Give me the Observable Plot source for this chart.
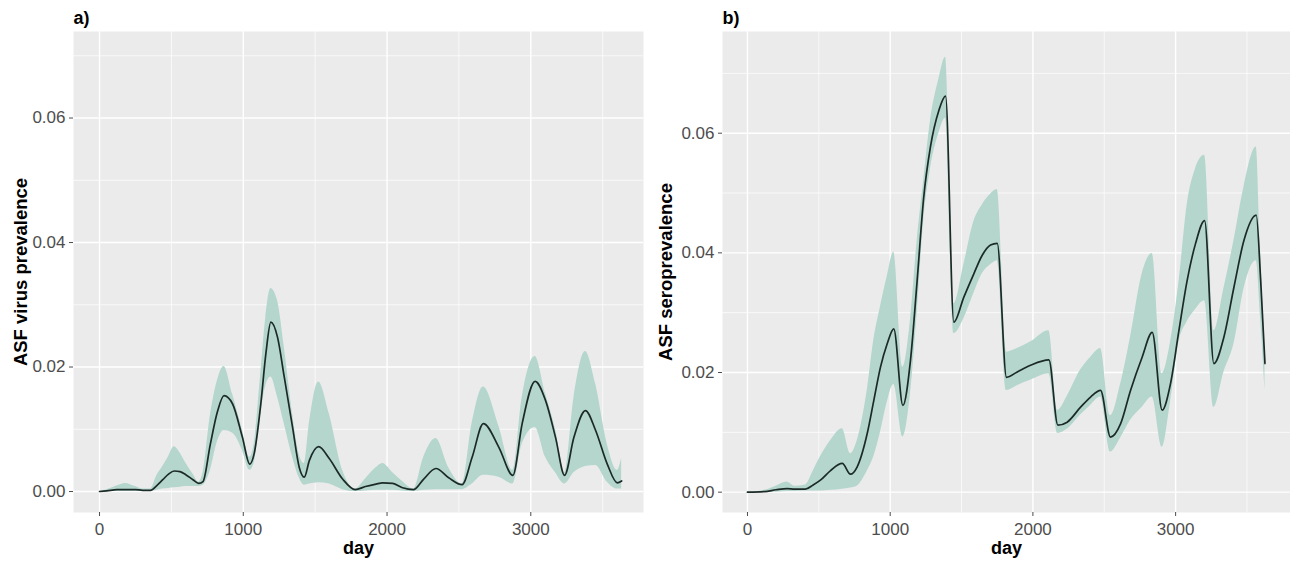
<!DOCTYPE html>
<html>
<head>
<meta charset="utf-8">
<script src="https://cdn.jsdelivr.net/npm/d3@7"></script>
<script src="https://cdn.jsdelivr.net/npm/@observablehq/plot@0.6"></script>
<style>
  html, body { margin: 0; padding: 0; background: #ffffff; }
  #wrap { display: flex; width: 1290px; height: 562px; }
</style>
</head>
<body>
<div id="wrap"></div>
<script>
// ---------- Panel a: ASF virus prevalence ----------
const aDay  = [0,50,120,180,250,300,355,400,440,480,520,560,600,650,690,720,770,820,866,925,994,1045,1075,1122,1157,1192,1238,1285,1343,1389,1424,1460,1524,1598,1691,1779,1850,1923,1970,2040,2108,2185,2255,2340,2429,2522,2592,2670,2778,2875,2940,3030,3103,3172,3235,3300,3380,3451,3532,3602,3632];
const aMean = [0,0.0001,0.0003,0.0003,0.0003,0.0002,0.0002,0.0010,0.0019,0.0028,0.0033,0.0032,0.0027,0.0019,0.0013,0.0016,0.0075,0.0128,0.0154,0.0141,0.0087,0.0044,0.0060,0.0141,0.0221,0.0272,0.0248,0.0184,0.0103,0.0039,0.0023,0.0050,0.0072,0.0053,0.0020,0.0003,0.0008,0.0012,0.0014,0.0013,0.0006,0.0003,0.0020,0.0037,0.0022,0.0011,0.0055,0.0109,0.0071,0.0026,0.0109,0.0177,0.0146,0.0087,0.0026,0.0087,0.0130,0.0098,0.0044,0.0014,0.0017];
const aLow  = [0,0,0,0,0,0,0,0.0002,0.0004,0.0005,0.0006,0.0007,0.0008,0.0008,0.0008,0.0010,0.0033,0.0080,0.0098,0.0094,0.0066,0.0034,0.0045,0.0125,0.0170,0.0184,0.0152,0.0109,0.0055,0.0022,0.0010,0.0012,0.0014,0.0012,0.0003,0,0.0001,0.0002,0.0002,0.0002,0.0001,0,0.0002,0.0003,0.0003,0.0003,0.0012,0.0026,0.0023,0.0012,0.0076,0.0103,0.0055,0.0030,0.0012,0.0030,0.0040,0.0042,0.0015,0.0004,0.0004];
const aHigh = [0,0.0003,0.0009,0.0013,0.0008,0.0004,0.0004,0.0026,0.0040,0.0056,0.0072,0.0062,0.0046,0.0028,0.0015,0.0030,0.0120,0.0178,0.0201,0.0157,0.0099,0.0055,0.0075,0.0190,0.0280,0.0326,0.0307,0.0232,0.0125,0.0060,0.0045,0.0110,0.0176,0.0125,0.0034,0.0004,0.0020,0.0038,0.0045,0.0030,0.0016,0.0004,0.0055,0.0085,0.0038,0.0012,0.0110,0.0168,0.0105,0.0034,0.0151,0.0217,0.0157,0.0100,0.0030,0.0150,0.0225,0.0173,0.0076,0.0034,0.0053];

// ---------- Panel b: ASF seroprevalence ----------
const bDay  = [0,120,200,278,330,406,460,511,582,664,722,768,839,885,932,979,1025,1089,1142,1189,1235,1282,1341,1388,1446,1516,1586,1645,1703,1750,1815,1890,1983,2112,2175,2240,2334,2404,2474,2544,2614,2684,2766,2836,2906,2964,3023,3081,3139,3203,3268,3338,3409,3479,3565,3596,3626];
const bMean = [0,0.0001,0.0004,0.0006,0.0005,0.0005,0.0012,0.0020,0.0036,0.0048,0.0030,0.0042,0.0098,0.0153,0.0209,0.0248,0.0273,0.0145,0.0220,0.0354,0.0493,0.0577,0.0638,0.0662,0.0284,0.0326,0.0365,0.0396,0.0413,0.0416,0.0192,0.0201,0.0212,0.0221,0.0112,0.0117,0.0142,0.0159,0.0170,0.0092,0.0114,0.0170,0.0226,0.0267,0.0137,0.0181,0.0270,0.0354,0.0415,0.0454,0.0215,0.0259,0.0343,0.0421,0.0463,0.0354,0.0215];
const bLow  = [0,0,0,0.0001,0.0001,0.0002,0.0002,0.0002,0.0003,0.0005,0.0007,0.0010,0.0035,0.0059,0.0100,0.0150,0.0180,0.0092,0.0164,0.0300,0.0454,0.0540,0.0600,0.0625,0.0265,0.0290,0.0332,0.0365,0.0380,0.0387,0.0170,0.0178,0.0187,0.0198,0.0098,0.0105,0.0129,0.0145,0.0159,0.0067,0.0090,0.0120,0.0142,0.0159,0.0075,0.0150,0.0250,0.0285,0.0305,0.0320,0.0142,0.0200,0.0248,0.0340,0.0387,0.0290,0.0170];
const bHigh = [0,0.0003,0.0010,0.0017,0.0010,0.0012,0.0035,0.0059,0.0086,0.0106,0.0064,0.0085,0.0170,0.0254,0.0310,0.0360,0.0401,0.0209,0.0287,0.0420,0.0521,0.0620,0.0690,0.0727,0.0315,0.0380,0.0452,0.0480,0.0498,0.0506,0.0234,0.0240,0.0251,0.0270,0.0137,0.0160,0.0204,0.0225,0.0240,0.0128,0.0180,0.0259,0.0365,0.0399,0.0198,0.0250,0.0350,0.0480,0.0540,0.0563,0.0270,0.0340,0.0421,0.0510,0.0577,0.0400,0.0230];

const xTicks = [0, 1000, 2000, 3000];
const xMinor = [500, 1500, 2500, 3500];
const yTicks = [0, 0.02, 0.04, 0.06];
const yMinor = [0.01, 0.03, 0.05, 0.07];

function rows(days, mean, low, high) {
  return days.map((d, i) => ({day: d, mean: mean[i], low: low[i], high: high[i]}));
}

function panel({data, tag, ylabel, xDomain, yDomain, marginLeft, marginRight, ylabDx, curve}) {
  return Plot.plot({
    width: 645,
    height: 562,
    marginTop: 31,
    marginBottom: 50,
    marginLeft,
    marginRight,
    style: {fontFamily: "'Liberation Sans', Arial, sans-serif", fontSize: "17px", background: "transparent", color: "#4D4D4D", overflow: "visible"},
    x: {domain: xDomain},
    y: {domain: yDomain},
    marks: [
      Plot.frame({fill: "#EBEBEB", stroke: null}),
      Plot.gridX(xMinor, {stroke: "#ffffff", strokeOpacity: 1, strokeWidth: 0.7}),
      Plot.gridY(yMinor.filter(v => v < yDomain[1]), {stroke: "#ffffff", strokeOpacity: 1, strokeWidth: 0.7}),
      Plot.gridX(xTicks, {stroke: "#ffffff", strokeOpacity: 1, strokeWidth: 1.4}),
      Plot.gridY(yTicks, {stroke: "#ffffff", strokeOpacity: 1, strokeWidth: 1.4}),
      Plot.areaY(data, {x: "day", y1: "low", y2: "high", fill: "#b4d6cd", curve}),
      Plot.line(data, {x: "day", y: "mean", stroke: "#1c2a27", strokeWidth: 1.7, curve}),
      Plot.axisX(xTicks, {tickSize: 4, tickPadding: 6, tickFormat: d3.format("d"), label: null, color: "#4D4D4D", fontSize: 17}),
      Plot.axisY(yTicks, {tickSize: 4, tickPadding: 4, tickFormat: d3.format(".2f"), label: null, color: "#4D4D4D", fontSize: 17}),
      Plot.text(["day"], {frameAnchor: "bottom", dy: 41, text: d => d, fontWeight: "bold", fontSize: 18, fill: "#000000"}),
      Plot.text([ylabel], {frameAnchor: "left", dx: ylabDx, rotate: -90, textAnchor: "middle", text: d => d, fontWeight: "bold", fontSize: 18.5, fill: "#000000"}),
      Plot.text([tag], {frameAnchor: "top-left", dy: -8, dx: 0, text: d => d, textAnchor: "start", lineAnchor: "bottom", fontWeight: "bold", fontSize: 18, fill: "#000000"})
    ]
  });
}

const wrap = document.getElementById("wrap");
wrap.append(panel({
  data: rows(aDay, aMean, aLow, aHigh),
  tag: "a)",
  ylabel: "ASF virus prevalence",
  xDomain: [-181, 3784],
  yDomain: [-0.00337, 0.0739],
  marginLeft: 73,
  marginRight: 2,
  ylabDx: -52,
  curve: "monotone-x"
}));
wrap.append(panel({
  data: rows(bDay, bMean, bLow, bHigh),
  tag: "b)",
  ylabel: "ASF seroprevalence",
  xDomain: [-175, 3805],
  yDomain: [-0.0034, 0.0770],
  marginLeft: 77,
  marginRight: 0,
  ylabDx: -56,
  curve: "monotone-x"
}));
</script>
</body>
</html>
